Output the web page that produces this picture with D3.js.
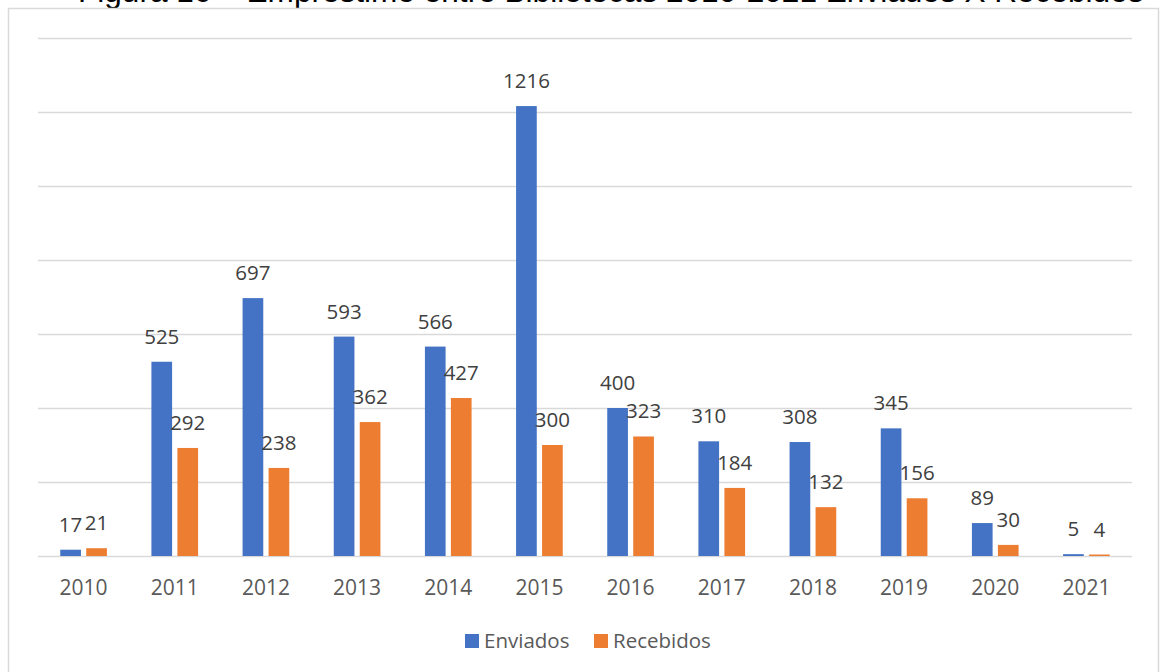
<!DOCTYPE html>
<meta charset="UTF-8">
<style>
	body { margin: 0; background: #fff; }
	.grid line { stroke: #d9d9d9; stroke-width: 1.5px; }
	.grid path { display: none; }
	.label { font: 20.5px "Open Sans", sans-serif; fill: #404040; text-anchor: middle; }
	.year { font: 21px "Open Sans", sans-serif; fill: #595959; text-anchor: middle; }
	.legend text { font: 20.5px "Open Sans", sans-serif; fill: #595959; }
</style>
<body>
	<script src="https://d3js.org/d3.v7.min.js"></script>
	<script>
		const years = ["2010", "2011", "2012", "2013", "2014", "2015", "2016", "2017", "2018", "2019", "2020", "2021"];
		const enviados = [17, 525, 697, 593, 566, 1216, 400, 310, 308, 345, 89, 5];
		const recebidos = [21, 292, 238, 362, 427, 300, 323, 184, 132, 156, 30, 4];
		const seriesNames = ["Enviados", "Recebidos"];
		const colors = ["#4472c4", "#ed7d31"];
		const yTicks = [0, 200, 400, 600, 800, 1000, 1200, 1400];

		const W = 1160, H = 672;
		const plot = { left: 38, right: 1132, top: 38, bottom: 556 };

		const svg = d3.select("body").append("svg")
			.attr("width", W)
			.attr("height", H);

		// title, mostly hidden behind the chart frame
		const title = svg.append("text")
			.attr("x", 78)
			.attr("y", 2)
			.style("font-family", "'Liberation Sans', Arial, sans-serif")
			.style("font-size", "24px")
			.style("fill", "#000")
			.text("Figura 16 – Empréstimo entre Bibliotecas 2010-2021 Enviados X Recebidos");
		const tw = title.node().getComputedTextLength();
		title.style("font-size", (24 * 1066 / tw) + "px");

		// chart frame
		svg.append("rect")
			.attr("x", 8.5)
			.attr("y", 8.5)
			.attr("width", 1150)
			.attr("height", 700)
			.attr("fill", "#fff")
			.attr("stroke", "#d9d9d9")
			.attr("stroke-width", 1.5);

		const x = d3.scaleBand()
			.domain(years)
			.range([plot.left, plot.right])
			.paddingInner(0.488)
			.paddingOuter(0.244);

		const x1 = d3.scaleBand()
			.domain([0, 1])
			.range([0, x.bandwidth()])
			.paddingInner(0.204);

		const y = d3.scaleLinear()
			.domain([0, 1400])
			.range([plot.bottom, plot.top]);

		svg.append("g")
			.attr("class", "grid")
			.attr("transform", `translate(${plot.left},0)`)
			.call(d3.axisLeft(y).tickValues(yTicks).tickSize(-(plot.right - plot.left)).tickFormat(""));

		const rows = years.map((yr, i) => ({ year: yr, values: [enviados[i], recebidos[i]] }));

		const groups = svg.selectAll("g.year-group")
			.data(rows)
			.enter()
			.append("g")
			.attr("class", "year-group")
			.attr("transform", d => `translate(${x(d.year)},0)`);

		groups.selectAll("rect")
			.data(d => d.values.map((v, k) => ({ v, k })))
			.enter()
			.append("rect")
			.attr("x", d => x1(d.k))
			.attr("y", d => y(d.v))
			.attr("width", x1.bandwidth())
			.attr("height", d => y(0) - y(d.v))
			.attr("fill", d => colors[d.k]);

		groups.selectAll("text.label")
			.data(d => d.values.map((v, k) => ({ v, k })))
			.enter()
			.append("text")
			.attr("class", "label")
			.attr("x", d => x1(d.k) + x1.bandwidth() / 2)
			.attr("y", d => y(d.v) - 18)
			.text(d => d.v);

		svg.append("g")
			.selectAll("text")
			.data(years)
			.enter()
			.append("text")
			.attr("class", "year")
			.attr("x", d => x(d) + x.bandwidth() / 2)
			.attr("y", 595)
			.text(d => d);

		// legend
		const legend = svg.append("g").attr("class", "legend");
		const legendX = [465, 594];
		seriesNames.forEach((name, k) => {
			legend.append("rect")
				.attr("x", legendX[k])
				.attr("y", 634)
				.attr("width", 14)
				.attr("height", 14)
				.attr("fill", colors[k]);
			legend.append("text")
				.attr("x", legendX[k] + 19)
				.attr("y", 648)
				.text(name);
		});
	</script>
</body>
